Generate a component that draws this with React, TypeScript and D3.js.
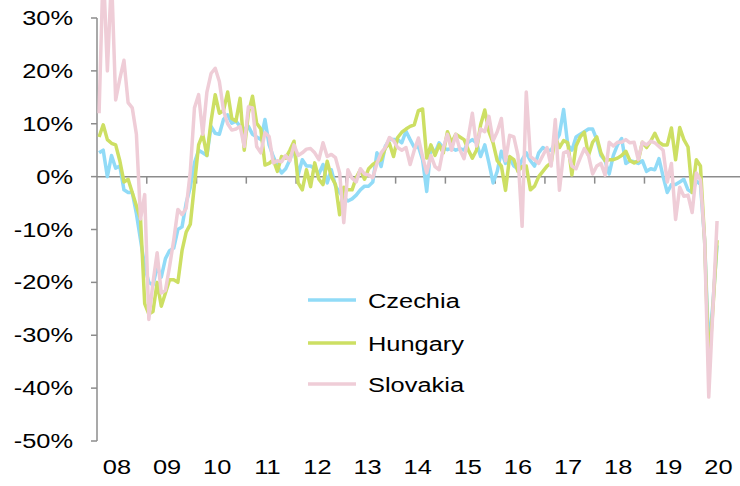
import React from "react";
import * as d3 from "d3";

const czechia = [
  4.5, 5, 0, 4, 1.6, 2, -2.5, -3, -3, -7, -12, -17,
  -20, -20.5, -17, -19, -15.5, -14, -13.5, -10, -9.5, -5, -2, 2.6,
  5, 4.5, 4, 9.5, 8.2, 8, 10.8, 11.7, 10.1, 10.5, 9.5, 9,
  9.5, 8, 7.5, 7, 10.8, 6, 3.8, 2, 0.7, 1.5, 3.2, 5.4,
  0.3, 3.2, 2, 2, 1.5, 0.5, 2.3, -1.2, 1.3, -1.8, -3, -4,
  -4.6, -4.2, -3.5, -2.5, -1.8, -1.8, -1, 4.5, 1.9, 5.7, 7, 7,
  7, 6.4, 8.6, 7, 5.5, 5.7, 3.2, -2.8, 5.7, 4.5, 6.4, 5.4,
  5.1, 5.4, 5, 5.3, 5, 6.5, 7, 6.4, 3.8, 6, 2.6, -1.2,
  1, 4.8, 2.5, 3.5, 2, 1.5, 3.2, 4.5, 3, 2, 4.5, 5.5,
  5, 5, 6.5, 8, 12.7, 6, 5, 7.5, 8, 8.5, 9, 9,
  7, 4, 3, 0.5, 4, 6, 7.2, 2.5, 3, 2.8, 2.5, 3,
  1, 1.5, 1.3, 3.4, 0, -3, -1.5, -1.5, -1, -0.5, -2.5, -3,
  -0.8, -1.5, -12, -33, -24, -13,
];

const hungary = [
  7.5, 9.8, 7, 6.3, 6, 3, -1, -0.5, -3, -5.5, -8, -24,
  -26, -25.5, -20, -24.5, -22, -19.5, -19.5, -20, -14, -10.5, -9, -1.5,
  6, 8, 4, 10.5, 15.5, 12, 12.5, 16, 11, 10.5, 14.8, 5,
  12, 15.2, 10.1, 9, 2.2, 2.5, 3.2, 1, 3.8, 3.5, 5, 6.7,
  -1.2, -2.5, 1.3, -1.9, 2.6, -0.5, -1.5, 2.9, 0, -1.5, -7.2, -2,
  -2.5, -2.5, -0.2, 1.3, -0.5, 1.5, 2.3, 2.8, 3.2, 5.4, 6.3, 3.8,
  7.4, 8.4, 9, 9.5, 9.8, 12.5, 12.8, 3.5, 6, 4, 6, 4.5,
  8.5, 6.4, 8, 7.5, 7, 5.1, 3.5, 5, 9.8, 12.6, 8.5, 6.4,
  3, 2, -2.6, 3.8, 3.2, 1, 1.9, 2, -2.5, -1.8, 0, 1,
  2, 2.6, 7.5, 5.5, 6.8, 6.4, 0.3, 5.8, 7.5, 8.4, 4, 6.5,
  7.5, 4.5, 3, 3.2, 3.2, 3.5, 4, 4.8, 3, 2.6, 3, 6.5,
  5.5, 6.7, 8.2, 6.5, 6, 6, 9.2, 3.2, 9.3, 7, 5.6, -3,
  3.2, 2, -12, -36, -25, -12,
];

const slovakia = [
  12, 40, 20, 38, 14.5, 18.5, 22, 14, 13, 8, -8, -3.4,
  -27, -20, -14.4, -22, -21.5, -17, -12, -6.2, -7.2, -6, 1, 13,
  15.5, 8, 16, 19.5, 20.5, 18, 12.5, 10, 8.8, 9, 9.5, 5.7,
  13.2, 13, 5.7, 4.5, 8.3, 7.6, 2.6, 3, 2.8, 4, 3, 6,
  4, 4.5, 5.2, 5.3, 4.5, 3.2, 6.4, 3.8, 4.2, 3.6, 0.7, -8.7,
  1.3, -0.3, -1, 1.5, 0.5, 0.3, -0.2, 2.5, 4.5, 5.5, 7.4, 6.8,
  5.5, 5, 5.5, 2.3, 5, 7.3, 3.8, 0.7, 4, 1.9, 1.3, 5.4,
  8, 5, 8, 5.1, 3.4, 7.3, 12, 5.8, 9, 8.5, 11.4, 6.8,
  8.5, 11, 3, 7.8, 7.5, 4, -9.4, 16, 3.8, 3.2, 2.5, 4,
  5.5, 2, 10.8, -2.6, 4.5, 4.8, 2, 1.5, 3.5, 5.3, 4, 0.5,
  2, 2.5, 0.3, 6.5, 5.8, 6.5, 6.5, 7, 6.4, 6.5, 3.2, 6.5,
  6, 6.7, 6.4, 5.7, 5, -1, 2.5, -8.1, -2, -3.7, -3.5, -6.8,
  0.7, -0.6, -12, -41.7, -25, -8.4,
];

const seriesNames = ["Czechia", "Hungary", "Slovakia"];
const seriesColors = ["#91dbf7", "#cddf63", "#efcdd7"];
const yTicks = [30, 20, 10, 0, -10, -20, -30, -40, -50];
const yearLabels = ["08", "09", "10", "11", "12", "13", "14", "15", "16", "17", "18", "19", "20"];

const W = 740;
const H = 486;
const STRETCH = 1.27;
const FONT = "'Liberation Sans', Arial, sans-serif";

export default function App() {
  const x = d3.scaleLinear().domain([0, 156]).range([97, 97 + 13 * 49.77]);
  const y = d3.scaleLinear().domain([-50, 30]).range([441, 18]);
  const labelX = d3.scaleLinear().domain([0, 12]).range([117, 718.5]);

  const line = d3
    .line<number>()
    .x((_, i) => x(i + 0.5))
    .y((d) => y(d))
    .curve(d3.curveLinear);

  const all = [czechia, hungary, slovakia];
  const axisColor = "#8c8c8c";
  const yearTicks = d3.range(1, 14);

  return (
    <div style={{ position: "absolute", left: 0, top: 0 }}>
      <svg width={W} height={H} style={{ display: "block", background: "#fff" }}>
        {/* Y axis */}
        <line x1={97} x2={97} y1={y(30)} y2={y(-50)} stroke={axisColor} strokeWidth={1.5} />
        {yTicks.map((t) => (
          <g key={t}>
            <line x1={91} x2={97} y1={y(t)} y2={y(t)} stroke={axisColor} strokeWidth={1.5} />
            <text
              transform={`translate(73,${y(t) + 7}) scale(${STRETCH},1)`}
              textAnchor="end"
              fontFamily={FONT}
              fontSize={20}
              fill="#000"
            >
              {`${t}%`}
            </text>
          </g>
        ))}
        {/* X axis at zero */}
        <line x1={97} x2={W} y1={y(0)} y2={y(0)} stroke={axisColor} strokeWidth={1.5} />
        {yearTicks.map((k) => (
          <line
            key={k}
            x1={x(k * 12)}
            x2={x(k * 12)}
            y1={y(0)}
            y2={y(0) + 7}
            stroke={axisColor}
            strokeWidth={1.5}
          />
        ))}
        {yearLabels.map((lab, i) => (
          <text
            key={lab}
            transform={`translate(${labelX(i)},474) scale(${STRETCH},1)`}
            textAnchor="middle"
            fontFamily={FONT}
            fontSize={20}
            fill="#000"
          >
            {lab}
          </text>
        ))}
        {/* Series */}
        {all.map((s, i) => (
          <path
            key={seriesNames[i]}
            d={line(s) || ""}
            fill="none"
            stroke={seriesColors[i]}
            strokeWidth={3.5}
            strokeLinejoin="round"
          />
        ))}
        {/* Legend */}
        {seriesNames.map((n, i) => {
          const ly = [300, 343, 384][i];
          return (
            <g key={n}>
              <line x1={308} x2={356} y1={ly} y2={ly} stroke={seriesColors[i]} strokeWidth={3.5} />
              <text
                transform={`translate(368,${ly + 8}) scale(${STRETCH},1)`}
                fontFamily={FONT}
                fontSize={20}
                fill="#000"
              >
                {n}
              </text>
            </g>
          );
        })}
      </svg>
    </div>
  );
}
